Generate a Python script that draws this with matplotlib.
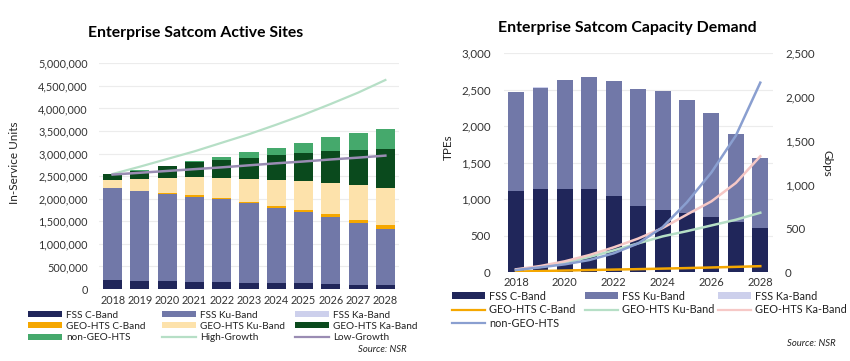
import numpy as np
from matplotlib import pyplot as plt
from matplotlib.ticker import FuncFormatter
from matplotlib.patches import Patch
from matplotlib.lines import Line2D

# Data - Active Sites (units)
years = [2018, 2019, 2020, 2021, 2022, 2023, 2024, 2025, 2026, 2027, 2028]
sites_fss_c = [195000, 185000, 175000, 165000, 155000, 140000, 130000, 125000, 110000, 96000, 82000]
sites_fss_ku = [2036000, 1979000, 1930000, 1880000, 1832000, 1758000, 1671000, 1573000, 1485000, 1366000, 1254000]
sites_fss_ka = [3000, 3000, 3000, 3000, 2000, 2000, 2000, 2000, 2000, 1000, 1000]
sites_geo_c = [5000, 15000, 20000, 25000, 30000, 37000, 45000, 50000, 55000, 65000, 74000]
sites_geo_ku = [176000, 248000, 338000, 401000, 446000, 507000, 573000, 650000, 703000, 776000, 833000]
sites_geo_ka = [133000, 191000, 259000, 346000, 400000, 451000, 540000, 613000, 702000, 775000, 864000]
sites_ngso = [3000, 5000, 8000, 10000, 52000, 133000, 169000, 228000, 303000, 377000, 443000]
high_growth = [2548000, 2710000, 2880000, 3050000, 3240000, 3430000, 3640000, 3860000, 4100000, 4350000, 4630000]
low_growth = [2535000, 2575000, 2615000, 2655000, 2695000, 2740000, 2785000, 2825000, 2870000, 2910000, 2955000]

# Data - Capacity Demand
tpe_fss_c = [1118, 1145, 1145, 1137, 1041, 908, 853, 817, 762, 693, 611]
tpe_fss_ku = [1348, 1384, 1485, 1539, 1580, 1599, 1631, 1544, 1416, 1198, 951]
tpe_fss_ka = [4, 4, 4, 4, 3, 3, 3, 3, 2, 2, 2]
gbps_geo_c = [8, 14, 20, 26, 31, 36, 42, 48, 55, 62, 70]
gbps_geo_ku = [30, 62, 110, 175, 250, 330, 410, 470, 535, 600, 680]
gbps_geo_ka = [34, 72, 126, 197, 285, 385, 505, 660, 810, 1020, 1325]
gbps_ngso = [26, 57, 91, 140, 217, 330, 515, 800, 1140, 1560, 2165]

# Colours
c_navy = '#20265a'
c_slate = '#7178a8'
c_lav = '#cdd0ec'
c_orange = '#f5a700'
c_beige = '#fde2ab'
c_dkgreen = '#0a4a1d'
c_green = '#45a96c'
c_mint = '#b6dfc6'
c_purple = '#9a8cb3'
c_pink = '#f6c8c6'
c_blue = '#8a9fd0'

plt.rcParams['font.family'] = 'Lato'
plt.rcParams['text.color'] = '#222222'
plt.rcParams['axes.labelcolor'] = '#333333'
plt.rcParams['xtick.color'] = '#333333'
plt.rcParams['ytick.color'] = '#333333'

fig = plt.figure(figsize=(8.5, 3.61), dpi=100)
comma = FuncFormatter(lambda v, p: '{:,.0f}'.format(v))
x = np.arange(len(years))


def bar_h(c):
    return Patch(facecolor=c)


def ln_h(c):
    return Line2D([0], [0], color=c, lw=1.6)


def legend_column(handles, labels, px, py, size, spacing, hlen):
    # one legend per column so the columns sit where the reference puts them
    fig.legend(handles, labels, loc='upper left', bbox_to_anchor=(px / 850, 1 - py / 361), frameon=False,
               fontsize=size, handlelength=hlen, handleheight=0.55, handletextpad=0.4,
               labelspacing=spacing, borderpad=0, borderaxespad=0)


# ---- Left chart: Active Sites
ax1 = fig.add_axes([99 / 850, 1 - 289 / 361, 300 / 850, 225.7 / 361])
bottom = np.zeros(len(years))
stacks = [(sites_fss_c, c_navy), (sites_fss_ku, c_slate), (sites_fss_ka, c_lav), (sites_geo_c, c_orange),
          (sites_geo_ku, c_beige), (sites_geo_ka, c_dkgreen), (sites_ngso, c_green)]
for vals, col in stacks:
    ax1.bar(x, vals, 0.7, bottom=bottom, color=col, zorder=2)
    bottom = bottom + np.array(vals)
ax1.plot(x, high_growth, color=c_mint, lw=1.6, zorder=3)
ax1.plot(x, low_growth, color=c_purple, lw=1.8, zorder=3)
ax1.set_xlim(-0.5, len(years) - 0.5)
ax1.set_ylim(0, 5000000)
ax1.set_yticks(np.arange(0, 5000001, 500000))
ax1.yaxis.set_major_formatter(comma)
ax1.set_xticks(x)
ax1.set_xticklabels([str(y) for y in years])
ax1.tick_params(axis='y', length=0, pad=8, labelsize=7.8)
ax1.tick_params(axis='x', length=0, pad=4, labelsize=7.8)
ax1.grid(axis='y', color='#ececec', lw=0.8, zorder=0)
for s in ax1.spines.values():
    s.set_visible(False)

fig.text(196 / 850, 1 - 33 / 361, 'Enterprise Satcom Active Sites', ha='center', va='center',
         fontsize=11.3, fontweight='bold', color='black')
fig.text(15 / 850, 1 - 163 / 361, 'In-Service Units', rotation=90, ha='center', va='center', fontsize=8.5)

legend_column([bar_h(c_navy), bar_h(c_orange), bar_h(c_green)],
              ['FSS C-Band', 'GEO-HTS C-Band', 'non-GEO-HTS'], 28, 310.5, 7.2, 0.25, 3.4)
legend_column([bar_h(c_slate), bar_h(c_beige), ln_h(c_mint)],
              ['FSS Ku-Band', 'GEO-HTS Ku-Band', 'High-Growth'], 162, 310.5, 7.2, 0.25, 3.4)
legend_column([bar_h(c_lav), bar_h(c_dkgreen), ln_h(c_purple)],
              ['FSS Ka-Band', 'GEO-HTS Ka-Band', 'Low-Growth'], 295, 310.5, 7.2, 0.25, 3.4)
fig.text(407 / 850, 1 - 350 / 361, 'Source: NSR', ha='right', va='center', fontsize=6.8, style='italic')

# ---- Right chart: Capacity Demand
ax2 = fig.add_axes([503.8 / 850, 1 - 272.3 / 361, 268.7 / 850, 219 / 361])
bottom = np.zeros(len(years))
for vals, col in [(tpe_fss_c, c_navy), (tpe_fss_ku, c_slate), (tpe_fss_ka, c_lav)]:
    ax2.bar(x, vals, 0.65, bottom=bottom, color=col, zorder=2)
    bottom = bottom + np.array(vals)
ax2.set_xlim(-0.5, len(years) - 0.5)
ax2.set_ylim(0, 3000)
ax2.set_yticks(np.arange(0, 3001, 500))
ax2.yaxis.set_major_formatter(comma)
ax2.set_xticks(x[::2])
ax2.set_xticklabels([str(y) for y in years[::2]])
ax2.tick_params(axis='y', length=0, pad=9.5, labelsize=8.3)
ax2.tick_params(axis='x', length=0, pad=3.5, labelsize=8.0)
ax2.grid(axis='y', color='#ececec', lw=0.8, zorder=0)
for s in ax2.spines.values():
    s.set_visible(False)

ax3 = ax2.twinx()
ax3.plot(x, gbps_geo_c, color=c_orange, lw=1.8)
ax3.plot(x, gbps_geo_ku, color=c_mint, lw=1.8)
ax3.plot(x, gbps_geo_ka, color=c_pink, lw=1.8)
ax3.plot(x, gbps_ngso, color=c_blue, lw=1.8)
ax3.set_ylim(0, 2500)
ax3.set_yticks(np.arange(0, 2501, 500))
ax3.yaxis.set_major_formatter(comma)
ax3.tick_params(axis='y', length=0, pad=9, labelsize=8.3)
for s in ax3.spines.values():
    s.set_visible(False)

fig.text(627.5 / 850, 1 - 28 / 361, 'Enterprise Satcom Capacity Demand', ha='center', va='center',
         fontsize=11.4, fontweight='bold', color='black')
fig.text(448 / 850, 1 - 147 / 361, 'TPEs', rotation=90, ha='center', va='center', fontsize=8.5)
fig.text(827 / 850, 1 - 163 / 361, 'Gbps', rotation=270, ha='center', va='center', fontsize=8.5)

legend_column([bar_h(c_navy), ln_h(c_orange), ln_h(c_blue)],
              ['FSS C-Band', 'GEO-HTS C-Band', 'non-GEO-HTS'], 452, 290.5, 7.8, 0.25, 3.0)
legend_column([bar_h(c_slate), ln_h(c_mint)],
              ['FSS Ku-Band', 'GEO-HTS Ku-Band'], 585, 290.5, 7.8, 0.25, 3.0)
legend_column([bar_h(c_lav), ln_h(c_pink)],
              ['FSS Ka-Band', 'GEO-HTS Ka-Band'], 718, 290.5, 7.8, 0.25, 3.0)
fig.text(836 / 850, 1 - 343 / 361, 'Source: NSR', ha='right', va='center', fontsize=6.8, style='italic')

plt.savefig('out.png', dpi=100)
